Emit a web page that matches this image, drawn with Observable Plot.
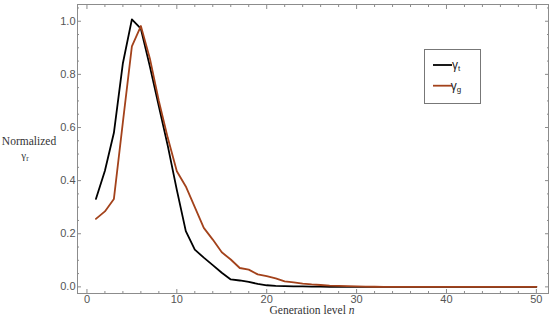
<!DOCTYPE html>
<html><head><meta charset="utf-8">
<script src="https://cdn.jsdelivr.net/npm/d3@7"></script>
<script src="https://cdn.jsdelivr.net/npm/@observablehq/plot@0.6"></script>
<style>body{margin:0;background:#fff}</style>
</head><body><div id="chart"></div>
<script>
const generation = d3.range(1, 51);
const gammaT = [0.331, 0.437, 0.58, 0.842, 1.007, 0.972, 0.83, 0.68, 0.53, 0.365,
  0.21, 0.14, 0.11, 0.082, 0.053, 0.028, 0.024, 0.019, 0.011, 0.006,
  0.004, 0.003, 0.002, 0.0015, 0.001, 0.0007, 0.0005, 0.0003, 0.0002, 0.0001,
  0, 0, 0, 0, 0, 0, 0, 0, 0, 0, 0, 0, 0, 0, 0, 0, 0, 0, 0, 0];
const gammaG = [0.256, 0.284, 0.331, 0.62, 0.905, 0.982, 0.86, 0.70, 0.56, 0.435,
  0.378, 0.30, 0.222, 0.178, 0.13, 0.103, 0.071, 0.065, 0.047, 0.04,
  0.032, 0.021, 0.017, 0.012, 0.009, 0.007, 0.005, 0.004, 0.003, 0.002,
  0.001, 0.0005, 0, 0, 0, 0, 0, 0, 0, 0, 0, 0, 0, 0, 0, 0, 0, 0, 0, 0];
const seriesNames = ["γt", "γg"];
const seriesColors = ["#000000", "#a3421b"];
const xMajorTicks = [0, 10, 20, 30, 40, 50];
const xMinorTicks = d3.range(0, 52, 2).filter(v => v % 10 !== 0);
const yMajorTicks = [0, 0.2, 0.4, 0.6, 0.8, 1.0];
const yTickLabels = ["0.0", "0.2", "0.4", "0.6", "0.8", "1.0"];
const yMinorTicks = [0.05,0.1,0.15,0.25,0.3,0.35,0.45,0.5,0.55,0.65,0.7,0.75,0.85,0.9,0.95,1.05];

const rows = [];
generation.forEach((n, i) => {
  rows.push({n, v: gammaT[i], s: seriesNames[0]});
  rows.push({n, v: gammaG[i], s: seriesNames[1]});
});

const frameColor = "#8c8c8c";
const labelColor = "#555";
const empty = () => "";

const plot = Plot.plot({
  width: 550, height: 326,
  marginLeft: 77, marginRight: 2, marginTop: 4, marginBottom: 33,
  style: {fontFamily: "'Liberation Sans', Arial, sans-serif", fontSize: "11px", background: "#fff"},
  x: {domain: [-1.05, 51.35]},
  y: {domain: [-0.025, 1.063]},
  color: {domain: seriesNames, range: seriesColors},
  marks: [
    Plot.frame({stroke: frameColor}),
    Plot.axisX(xMajorTicks, {anchor: "bottom", tickSize: -4, tickPadding: 6, label: null, stroke: frameColor, fill: labelColor}),
    Plot.axisX(xMinorTicks, {anchor: "bottom", tickSize: -2, tickFormat: empty, label: null, stroke: frameColor}),
    Plot.axisX(xMajorTicks, {anchor: "top", tickSize: -4, tickFormat: empty, label: null, stroke: frameColor}),
    Plot.axisX(xMinorTicks, {anchor: "top", tickSize: -2, tickFormat: empty, label: null, stroke: frameColor}),
    Plot.axisY(yMajorTicks, {anchor: "left", tickSize: -4, tickPadding: 6, label: null, stroke: frameColor, fill: labelColor,
      tickFormat: (d) => yTickLabels[yMajorTicks.indexOf(d)]}),
    Plot.axisY(yMinorTicks, {anchor: "left", tickSize: -2, tickFormat: empty, label: null, stroke: frameColor}),
    Plot.axisY(yMajorTicks, {anchor: "right", tickSize: -4, tickFormat: empty, label: null, stroke: frameColor}),
    Plot.axisY(yMinorTicks, {anchor: "right", tickSize: -2, tickFormat: empty, label: null, stroke: frameColor}),
    Plot.line(rows, {x: "n", y: "v", z: "s", stroke: "s", strokeWidth: 1.8, curve: "linear"})
  ]
});
document.getElementById("chart").appendChild(plot);

const svg = d3.select(plot);
const serif = "'Liberation Serif', 'Times New Roman', serif";
// y label
svg.append("text").style("font-family", serif).style("font-size", "11.5px").attr("fill", "#333").attr("text-anchor", "middle")
  .attr("x", 29).attr("y", 145).text("Normalized");
const yl2 = svg.append("text").style("font-family", serif).style("font-size", "11px").attr("fill", "#333").attr("x", 25).attr("y", 159);
yl2.append("tspan").text("γ");
yl2.append("tspan").style("font-size", "7.5px").attr("dy", 2).text("r");
// x label
const xl = svg.append("text").style("font-family", serif).style("font-size", "11.5px").attr("fill", "#333")
  .attr("text-anchor", "middle").attr("x", 312).attr("y", 314);
xl.append("tspan").text("Generation level ");
xl.append("tspan").style("font-style", "italic").text("n");
// legend
const lg = svg.append("g");
lg.append("rect").attr("x", 424.5).attr("y", 49.5).attr("width", 56).attr("height", 54)
  .attr("fill", "#fff").attr("stroke", "#777").attr("stroke-width", 1);
seriesNames.forEach((name, i) => {
  const y = 65 + i * 20.7;
  lg.append("line").attr("x1", 433).attr("x2", 452).attr("y1", y).attr("y2", y)
    .attr("stroke", seriesColors[i]).attr("stroke-width", 1.8);
  const t = lg.append("text").attr("x", 456).attr("y", y + 4).style("font-family", "'Liberation Sans', Arial, sans-serif")
    .style("font-size", "12px").attr("fill", "#222");
  t.append("tspan").text(name[0]);
  t.append("tspan").style("font-size", "8px").attr("dy", 2).text(name.slice(1));
});
</script>
</body></html>
